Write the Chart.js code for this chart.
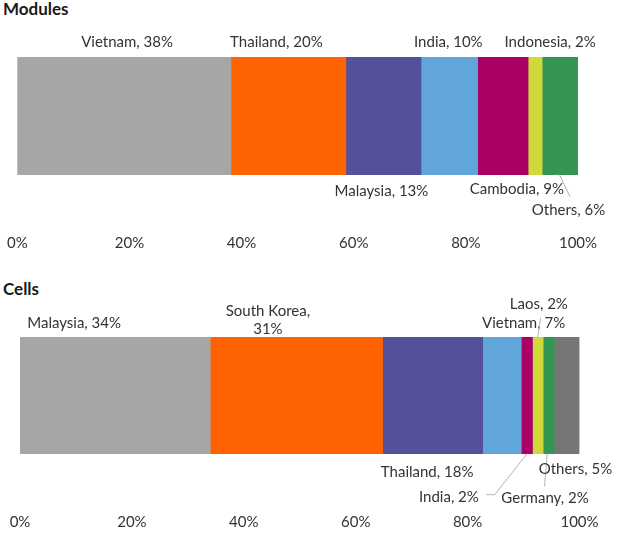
<!DOCTYPE html>
<html>
<head>
<meta charset="utf-8">
<script src="https://cdn.jsdelivr.net/npm/chart.js@4/dist/chart.umd.min.js"></script>
<style>
  body { margin: 0; background: #fff; width: 621px; height: 541px; position: relative; overflow: hidden; }
  .title { position: absolute; left: 3px; font: bold 17px Lato, sans-serif; color: #1a1a1a; }
  .box { position: absolute; left: 0; width: 621px; }
</style>
</head>
<body>
<div class="title" style="top:-2px">Modules</div>
<div class="box" style="top:0; height:270px"><canvas id="modules-chart"></canvas></div>
<div class="title" style="top:278px">Cells</div>
<div class="box" style="top:270px; height:290px"><canvas id="cells-chart"></canvas></div>
<script>
// tick labels
const xTicks = [0, 20, 40, 60, 80, 100];

// Modules
const moduleCountries = ['Vietnam', 'Thailand', 'Malaysia', 'India', 'Cambodia', 'Indonesia', 'Others'];
const moduleShares = [38.1, 20.5, 13.4, 10.1, 9.0, 2.5, 6.4];
const moduleShareLabels = ['38%', '20%', '13%', '10%', '9%', '2%', '6%'];

// Cells
const cellCountries = ['Malaysia', 'South Korea', 'Thailand', 'Vietnam', 'India', 'Laos', 'Germany', 'Others'];
const cellShares = [34.0, 30.8, 17.9, 6.9, 2.0, 1.9, 2.0, 4.5];
const cellShareLabels = ['34%', '31%', '18%', '7%', '2%', '2%', '2%', '5%'];

const moduleColors = ['#a6a6a6', '#ff6200', '#525199', '#60a6da', '#ab0066', '#d0d93c', '#349651'];
const cellColors = ['#a6a6a6', '#ff6200', '#525199', '#60a6da', '#ab0066', '#d0d93c', '#349651', '#767676'];

// where each label sits, relative to its segment (side of bar, x shift, y shift from bar edge)
const moduleLabelPos = [
    { side: 'top', dx: 3, dy: -15 },
    { side: 'top', dx: -12, dy: -15 },
    { side: 'bottom', dx: -2, dy: 16 },
    { side: 'top', dx: -1, dy: -15 },
    { side: 'bottom', dx: 14, dy: 14.5 },
    { side: 'top', dx: 15, dy: -15 },
    { side: 'bottom', dx: 8.5, dy: 35, leader: [[-0.6, 0], [10, 22]] }
];
const cellLabelPos = [
    { side: 'top', dx: -41, dy: -14.6 },
    { side: 'top', dx: -28.5, dy: -26.3, lineGap: 18.3, split: true },
    { side: 'bottom', dx: -5.5, dy: 18 },
    { side: 'top', dx: 21.6, dy: -14.3 },
    { side: 'bottom', dx: -78, dy: 43, leader: [[0.2, 0], [-32.2, 41], [-40.5, 41]] },
    { side: 'top', dx: 1, dy: -32.8, leader: [[-0.2, 0], [2.8, -19.4]] },
    { side: 'bottom', dx: -3.7, dy: 44.3, leader: [[-1.5, 0], [-4.2, 32.7]] },
    { side: 'bottom', dx: 8.5, dy: 15.3 }
];

const fontFamily = 'Lato, sans-serif';
const textColor = '#333333';

// plugin that writes "Country, xx%" next to each segment
const segmentLabels = {
    id: 'segmentLabels',
    afterDatasetsDraw(chart, args, opts) {
        const ctx = chart.ctx;
        ctx.save();
        ctx.font = '15px ' + fontFamily;
        ctx.fillStyle = textColor;
        ctx.textAlign = 'center';
        ctx.textBaseline = 'middle';
        chart.data.datasets.forEach((ds, i) => {
            const bar = chart.getDatasetMeta(i).data[0];
            const cx = (bar.x + bar.base) / 2;
            const top = bar.y - bar.height / 2;
            const bottom = bar.y + bar.height / 2;
            const pos = opts.positions[i];
            const edge = pos.side === 'top' ? top : bottom;
            if (pos.leader) {
                ctx.strokeStyle = '#b3b3b3';
                ctx.lineWidth = 1;
                ctx.beginPath();
                pos.leader.forEach((p, k) => {
                    if (k === 0) ctx.moveTo(cx + p[0], edge + p[1]);
                    else ctx.lineTo(cx + p[0], edge + p[1]);
                });
                ctx.stroke();
            }
            if (pos.split) {
                ctx.fillText(ds.label + ',', cx + pos.dx, edge + pos.dy);
                ctx.fillText(opts.shareLabels[i], cx + pos.dx, edge + pos.dy + pos.lineGap);
            } else {
                ctx.fillText(ds.label + ', ' + opts.shareLabels[i], cx + pos.dx, edge + pos.dy);
            }
        });
        ctx.restore();
    }
};

function makeChart(canvas, countries, shares, colors, shareLabels, positions, thickness, padding) {
    return new Chart(canvas.getContext('2d'), {
        type: 'bar',
        data: {
            labels: [''],
            datasets: countries.map((c, i) => ({
                label: c,
                data: [shares[i]],
                backgroundColor: colors[i],
                borderWidth: 0,
                barThickness: thickness
            }))
        },
        options: {
            indexAxis: 'y',
            responsive: true,
            maintainAspectRatio: false,
            animation: false,
            layout: { padding: padding },
            plugins: {
                legend: { display: false },
                tooltip: { enabled: false },
                segmentLabels: { positions: positions, shareLabels: shareLabels }
            },
            scales: {
                x: {
                    stacked: true,
                    min: 0,
                    max: 100,
                    afterBuildTicks: axis => { axis.ticks = xTicks.map(v => ({ value: v })); },
                    // labels fit inside the layout padding, no extra overhang
                    afterFit: axis => { axis.paddingLeft = 0; axis.paddingRight = 0; },
                    grid: { display: false, drawTicks: false },
                    border: { display: false },
                    ticks: {
                        padding: 12,
                        color: textColor,
                        font: { family: fontFamily, size: 15 },
                        callback: v => v + '%'
                    }
                },
                y: { stacked: true, display: false }
            }
        },
        plugins: [segmentLabels]
    });
}

makeChart(document.querySelector('#modules-chart'), moduleCountries, moduleShares, moduleColors,
    moduleShareLabels, moduleLabelPos, 117.4, { left: 17.3, right: 43, top: 10, bottom: 6 });

makeChart(document.querySelector('#cells-chart'), cellCountries, cellShares, cellColors,
    cellShareLabels, cellLabelPos, 116.4, { left: 20, right: 41.5, top: 20, bottom: 17 });
</script>
</body>
</html>
